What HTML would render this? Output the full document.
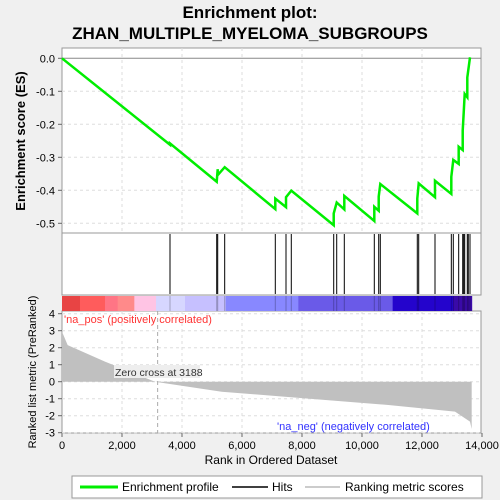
<!DOCTYPE html>
<html><head><meta charset="utf-8"><style>
body{margin:0;background:#f0f0f0;font-family:"Liberation Sans",sans-serif;}
svg{display:block}
</style></head><body>
<svg id="c" width="500" height="500" xmlns="http://www.w3.org/2000/svg">
<rect width="500" height="500" fill="#f0f0f0"/>
<text x="250" y="18" text-anchor="middle" font-size="17" font-weight="bold">Enrichment plot:</text>
<text x="250" y="39" text-anchor="middle" font-size="17" font-weight="bold">ZHAN_MULTIPLE_MYELOMA_SUBGROUPS</text>
<g id="plot"></g>
<text transform="translate(25,141) rotate(-90)" text-anchor="middle" font-size="13" font-weight="bold">Enrichment score (ES)</text>
<text transform="translate(36,372) rotate(-90)" text-anchor="middle" font-size="11">Ranked list metric (PreRanked)</text>
<text x="271" y="464" text-anchor="middle" font-size="12">Rank in Ordered Dataset</text>
<g>
<rect x="72" y="476" width="410" height="22" fill="#fff" stroke="#999"/>
<line x1="80" y1="487" x2="118" y2="487" stroke="#00ee00" stroke-width="3"/>
<text x="122" y="491" font-size="12">Enrichment profile</text>
<line x1="232" y1="487" x2="268" y2="487" stroke="#000" stroke-width="1.5"/>
<text x="272" y="491" font-size="12">Hits</text>
<line x1="305" y1="487" x2="340" y2="487" stroke="#bbb" stroke-width="1.5"/>
<text x="345" y="491" font-size="12">Ranking metric scores</text>
</g>
</svg>
<script>
const hitRanks=[3600,5157,5190,5423,7110,7467,7643,9057,9157,9410,10410,10557,10610,11843,11890,12433,12977,13043,13223,13357,13390,13423,13510,13543,13600];
const esRanks=[0,3600,3600,5157,5190,5190,5423,7110,7110,7467,7467,7643,9057,9057,9157,9410,9410,10410,10410,10557,10557,10610,11843,11843,11890,12433,12433,12977,12977,13043,13223,13223,13357,13357,13390,13423,13510,13510,13600];
const esValues=[0,-0.262,-0.258,-0.374,-0.336,-0.354,-0.330,-0.457,-0.425,-0.451,-0.421,-0.401,-0.506,-0.470,-0.437,-0.458,-0.417,-0.493,-0.450,-0.462,-0.419,-0.381,-0.470,-0.425,-0.379,-0.421,-0.371,-0.411,-0.359,-0.308,-0.320,-0.268,-0.278,-0.219,-0.165,-0.108,-0.118,-0.058,0.003];
const metricRanks=[0,10,189,1433,3100,5322,8100,10878,13100,13600,13656];
const metricValues=[2.9,2.9,2.15,1.18,0,-0.59,-0.98,-1.37,-1.76,-2.35,-2.78];
const xTicks=[0,2000,4000,6000,8000,10000,12000,14000];
const xTickLabels=["0","2,000","4,000","6,000","8,000","10,000","12,000","14,000"];
const esTicks=[0,-0.1,-0.2,-0.3,-0.4,-0.5];
const esTickLabels=["0.0","-0.1","-0.2","-0.3","-0.4","-0.5"];
const mTicks=[4,3,2,1,0,-1,-2,-3];
const barBounds=[0,600,1433,1856,2411,3133,4100,5456,7878,11022,13043,13656];
const barColors=["#e84444","#ff5c5c","#ff7585","#ff8a8a","#ffc4e4","#d6d6ff","#c6c0ff","#8888ff","#6a5ae8","#2404cc","#3a0aa8"];
const zeroCross=3188;
const NS="http://www.w3.org/2000/svg";
const X=r=>62+r*0.03;
const YE=v=>58.3-v*330;
const YM=v=>381.7-v*17;
const g=document.getElementById('plot');
function mk(t,a,p){const e=document.createElementNS(NS,t);for(const k in a)e.setAttribute(k,a[k]);(p||g).appendChild(e);return e;}
let p1=mk('rect',{x:62,y:48,width:419,height:185,fill:'#fff',stroke:'#999'});


let p2=mk('rect',{x:62,y:233,width:419,height:62,fill:'#fff',stroke:'#999'});


let p3=mk('rect',{x:62,y:311,width:419,height:122,fill:'#fff',stroke:'#999'});


xTicks.forEach((t,i)=>{
 if(i>0&&i<xTicks.length-1){
  mk('line',{x1:X(t),x2:X(t),y1:48,y2:233,stroke:'#ddd','stroke-dasharray':'3,3'});
  mk('line',{x1:X(t),x2:X(t),y1:311,y2:433,stroke:'#ddd','stroke-dasharray':'3,3'});
 }
 mk('line',{x1:X(t),x2:X(t),y1:433,y2:437,stroke:'#666'});
 let tx=mk('text',{x:X(t),y:449,'text-anchor':'middle','font-size':11});
 tx.textContent=xTickLabels[i];
 
 
});
esTicks.forEach((t,i)=>{
 mk('line',{x1:62,x2:481,y1:YE(t),y2:YE(t),stroke:t===0?'#888':'#ddd','stroke-dasharray':t===0?'':'3,3'});
 mk('line',{x1:58,x2:62,y1:YE(t),y2:YE(t),stroke:'#666'});
 let tx=mk('text',{x:55,y:YE(t)+4,'text-anchor':'end','font-size':11});
 tx.textContent=esTickLabels[i];
 
 
});
mTicks.forEach(t=>{
 mk('line',{x1:62,x2:481,y1:YM(t),y2:YM(t),stroke:'#ddd','stroke-dasharray':'3,3'});
 mk('line',{x1:58,x2:62,y1:YM(t),y2:YM(t),stroke:'#666'});
 let tx=mk('text',{x:55,y:YM(t)+4,'text-anchor':'end','font-size':11});
 tx.textContent=String(t);
 
 
});
const maxR=metricRanks[metricRanks.length-1];
for(let i=0;i<barColors.length;i++){
 let r=mk('rect',{x:X(barBounds[i]),y:296,width:X(barBounds[i+1])-X(barBounds[i])+0.5,height:15,fill:barColors[i]});
 
 
}
hitRanks.forEach(h=>{
 let l=mk('line',{x1:X(h),x2:X(h),y1:234,y2:294,stroke:'#000','stroke-width':1});
 
 
 mk('line',{x1:X(h),x2:X(h),y1:296,y2:311,stroke:'#000','stroke-opacity':0.25});
});
let d='M'+X(0)+','+YM(0);
metricRanks.forEach((r,i)=>{d+=' L'+X(r)+','+YM(metricValues[i]);});
d+=' L'+X(maxR)+','+YM(0)+' Z';
let ar=mk('path',{d:d,fill:'#c0c0c0'});


mk('line',{x1:X(zeroCross),x2:X(zeroCross),y1:311,y2:433,stroke:'#aaa','stroke-dasharray':'4,3'});
mk('rect',{x:114,y:365,width:86,height:13,fill:'#eeeeee'});
let zt=mk('text',{x:115,y:376,'font-size':10.5,fill:'#333'});
zt.textContent='Zero cross at 3188';


let pl=mk('text',{x:64,y:323,'font-size':11,fill:'#ff3333'});
pl.textContent="'na_pos' (positively correlated)";


let nl=mk('text',{x:277,y:430,'font-size':11,fill:'#3333ff'});
nl.textContent="'na_neg' (negatively correlated)";


let pts=esRanks.map((r,i)=>X(r)+','+YE(esValues[i])).join(' ');
let es=mk('polyline',{points:pts,fill:'none',stroke:'#00ee00','stroke-width':2.5});


</script>
</body></html>
